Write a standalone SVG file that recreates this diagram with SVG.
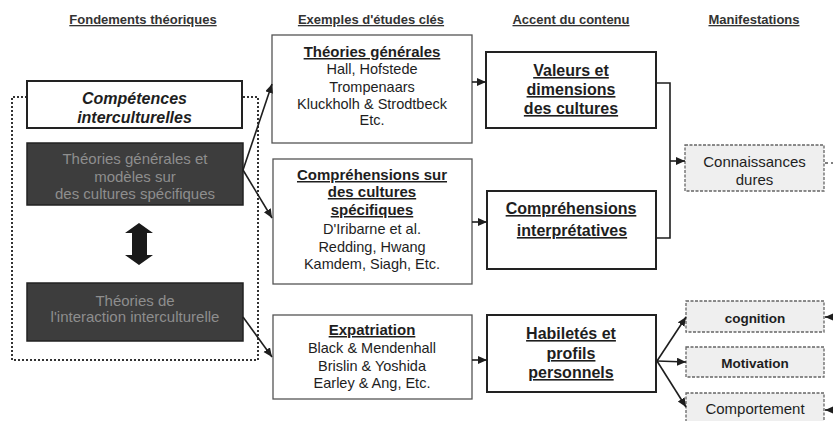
<svg xmlns="http://www.w3.org/2000/svg" width="833" height="421" viewBox="0 0 833 421">
<style>
text{font-family:"Liberation Sans",Arial,sans-serif;text-anchor:middle;fill:#1e1e1e}
.h{font-size:13px;font-weight:bold;text-decoration:underline;fill:#333}
.ci{font-size:16px;font-weight:bold;font-style:italic}
.dk{font-size:15px;fill:#8e8e8e}
.et{font-size:15px;font-weight:bold;text-decoration:underline}
.en{font-size:14.5px}
.ac{font-size:16px;font-weight:bold;text-decoration:underline}
.mn{font-size:15px}
.mb{font-size:13.5px;font-weight:bold}
.box{fill:#fff;stroke:#222;stroke-width:2}
.ebox{fill:#fff;stroke:#555;stroke-width:1.3}
.dark{fill:#3d3d3d;stroke:#222;stroke-width:1.5}
.man{fill:#efefef;stroke:#666;stroke-width:1.3;stroke-dasharray:3 1.5}
.c{fill:none;stroke:#1e1e1e;stroke-width:1.6}
</style>
<defs>
<marker id="ah" markerUnits="userSpaceOnUse" markerWidth="10" markerHeight="9" refX="9" refY="4" orient="auto">
<path d="M0,0 L9,4 L0,8 z" fill="#1e1e1e"/>
</marker>
</defs>
<g id="headers">
<text class="h" x="143" y="24">Fondements théoriques</text>
<text class="h" x="371" y="24">Exemples d'études clés</text>
<text class="h" x="571" y="24">Accent du contenu</text>
<text class="h" x="754" y="24">Manifestations</text>
</g>
<g id="frame">
<path d="M27,97 H12 V360 H258 V97 H242" fill="none" stroke="#333" stroke-width="2" stroke-dasharray="2 2"/>
</g>
<g id="competences">
<rect class="box" x="27" y="81" width="215" height="47"/>
<text class="ci" x="134.5" y="104">Compétences</text>
<text class="ci" x="134.5" y="123">interculturelles</text>
</g>
<g id="theories-generales">
<rect class="dark" x="27" y="143" width="216" height="62"/>
<text class="dk" x="135" y="164">Théories générales et</text>
<text class="dk" x="135" y="182">modèles sur</text>
<text class="dk" x="135" y="199">des cultures spécifiques</text>
</g>
<g id="double-arrow">
<polygon points="139,223 153,233 147,233 147,255 153,255 139,265 125,255 132,255 132,233 125,233" fill="#1a1a1a"/>
</g>
<g id="theories-interaction">
<rect class="dark" x="27" y="283" width="216" height="58"/>
<text class="dk" x="135" y="306">Théories de</text>
<text class="dk" x="135" y="322">l'interaction interculturelle</text>
</g>
<g id="ex-theories">
<rect class="ebox" x="272" y="35" width="200" height="108"/>
<text class="et" x="372" y="57">Théories générales</text>
<text class="en" x="372" y="74">Hall, Hofstede</text>
<text class="en" x="372" y="92">Trompenaars</text>
<text class="en" x="372" y="109">Kluckholh &amp; Strodtbeck</text>
<text class="en" x="372" y="125">Etc.</text>
</g>
<g id="ex-comprehensions">
<rect class="ebox" x="273" y="159" width="199" height="125"/>
<text class="et" x="372" y="180">Compréhensions sur</text>
<text class="et" x="372" y="197">des cultures</text>
<text class="et" x="372" y="215">spécifiques</text>
<text class="en" x="372" y="234">D'Iribarne et al.</text>
<text class="en" x="372" y="252">Redding, Hwang</text>
<text class="en" x="372" y="269">Kamdem, Siagh, Etc.</text>
</g>
<g id="ex-expatriation">
<rect class="ebox" x="273" y="315" width="199" height="84"/>
<text class="et" x="372" y="335">Expatriation</text>
<text class="en" x="372" y="353">Black &amp; Mendenhall</text>
<text class="en" x="372" y="371">Brislin &amp; Yoshida</text>
<text class="en" x="372" y="388">Earley &amp; Ang, Etc.</text>
</g>
<g id="valeurs">
<rect class="box" x="486" y="52" width="170" height="76"/>
<text class="ac" x="571" y="76">Valeurs et</text>
<text class="ac" x="571" y="95">dimensions</text>
<text class="ac" x="571" y="114">des cultures</text>
</g>
<g id="interpretatives">
<rect class="box" x="487" y="191" width="169" height="78"/>
<text class="ac" x="571" y="214">Compréhensions</text>
<text class="ac" x="572" y="236">interprétatives</text>
</g>
<g id="habiletes">
<rect class="box" x="487" y="315" width="169" height="77"/>
<text class="ac" x="571" y="339">Habiletés et</text>
<text class="ac" x="571" y="359">profils</text>
<text class="ac" x="571" y="378">personnels</text>
</g>
<g id="connaissances">
<rect class="man" x="685" y="145" width="139" height="46"/>
<text class="mn" x="754.5" y="167">Connaissances</text>
<text class="mn" x="754.5" y="185">dures</text>
</g>
<g id="cognition">
<rect class="man" x="686" y="301" width="138" height="31"/>
<text class="mb" x="755" y="323">cognition</text>
</g>
<g id="motivation">
<rect class="man" x="686" y="347" width="138" height="30"/>
<text class="mb" x="755" y="368">Motivation</text>
</g>
<g id="comportement">
<rect class="man" x="686" y="393" width="138" height="34"/>
<text class="mn" x="755" y="414">Comportement</text>
</g>
<g id="connectors">
<line class="c" x1="243" y1="170" x2="272" y2="84" marker-end="url(#ah)"/>
<line class="c" x1="243" y1="170" x2="272" y2="218" marker-end="url(#ah)"/>
<line class="c" x1="243" y1="317" x2="272" y2="357" marker-end="url(#ah)"/>
<line class="c" x1="472" y1="82" x2="486" y2="82" marker-end="url(#ah)"/>
<line class="c" x1="472" y1="222" x2="487" y2="222" marker-end="url(#ah)"/>
<line class="c" x1="472" y1="360" x2="487" y2="360" marker-end="url(#ah)"/>
<polyline class="c" points="656,83 670,83 670,238 656,238"/>
<line class="c" x1="670" y1="161" x2="685" y2="161" marker-end="url(#ah)"/>
<line class="c" x1="657" y1="361" x2="686" y2="317" marker-end="url(#ah)"/>
<line class="c" x1="657" y1="361" x2="686" y2="362" marker-end="url(#ah)"/>
<line class="c" x1="657" y1="361" x2="686" y2="407" marker-end="url(#ah)"/>
<line class="c" x1="845" y1="317" x2="825" y2="317" marker-end="url(#ah)"/>
<line class="c" x1="845" y1="410" x2="825" y2="410" marker-end="url(#ah)"/>
<line x1="825" y1="163" x2="833" y2="163" stroke="#555" stroke-width="1.3" stroke-dasharray="3 3"/>
</g>
</svg>
